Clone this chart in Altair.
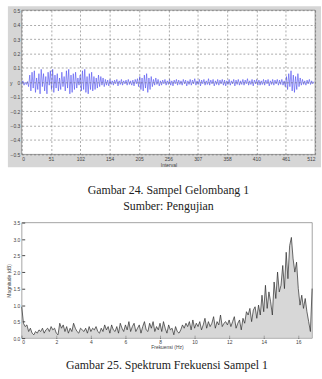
import altair as alt
import pandas as pd

# Sample waveform (amplitude per sample pair)
signal = [
    -0.01, 0.01, -0.02, 0.00, -0.015, 0.005, -0.03, 0.05, -0.06, 0.07, -0.04, 0.08, -0.07, 0.03, -0.05, 0.06,
    -0.08, 0.09, -0.03, 0.06, -0.06, 0.04, -0.08, 0.07, -0.02, 0.08, -0.05, 0.09, -0.07, 0.05, -0.04, 0.06,
    -0.06, 0.03, -0.05, 0.07, -0.03, 0.04, -0.06, 0.08, -0.04, 0.09, -0.08, 0.05, -0.07, 0.06, -0.05, 0.07,
    -0.04, 0.03, -0.02, 0.05, -0.06, 0.08, -0.05, 0.09, -0.07, 0.04, -0.08, 0.06, -0.05, 0.07, -0.06, 0.04,
    -0.05, 0.03, -0.04, 0.05, -0.03, 0.04, -0.02, 0.03, -0.03, 0.02, -0.02, 0.015, -0.025, 0.02, -0.015, 0.01,
    -0.02, 0.015, -0.01, 0.02, -0.025, 0.01, -0.015, 0.02, -0.02, 0.01, -0.01, 0.015, -0.02, 0.02, -0.015, 0.01,
    -0.02, 0.015, -0.025, 0.02, -0.01, 0.025, -0.03, 0.04, -0.05, 0.03, -0.06, 0.05, -0.04, 0.06, -0.07, 0.03,
    -0.05, 0.04, -0.03, 0.02, -0.02, 0.03, -0.015, 0.02, -0.025, 0.01, -0.02, 0.015, -0.01, 0.02, -0.02, 0.01,
    -0.015, 0.02, -0.02, 0.01, -0.025, 0.015, -0.01, 0.02, -0.02, 0.015, -0.015, 0.01, -0.02, 0.02, -0.01, 0.015,
    -0.025, 0.01, -0.015, 0.02, -0.02, 0.015, -0.01, 0.025, -0.02, 0.01, -0.015, 0.02, -0.025, 0.015, -0.01, 0.02,
    -0.02, 0.01, -0.015, 0.025, -0.02, 0.015, -0.01, 0.02, -0.025, 0.01, -0.015, 0.02, -0.02, 0.015, -0.01, 0.02,
    -0.02, 0.015, -0.025, 0.01, -0.015, 0.02, -0.02, 0.01, -0.01, 0.02, -0.025, 0.015, -0.015, 0.02, -0.02, 0.01,
    -0.015, 0.02, -0.02, 0.015, -0.01, 0.025, -0.02, 0.01, -0.015, 0.02, -0.025, 0.015, -0.01, 0.02, -0.02, 0.015,
    -0.02, 0.01, -0.015, 0.02, -0.02, 0.015, -0.01, 0.02, -0.025, 0.01, -0.015, 0.02, -0.02, 0.015, -0.01, 0.02,
    -0.02, 0.015, -0.015, 0.02, -0.02, 0.01, -0.03, 0.04, -0.05, 0.06, -0.03, 0.08, -0.06, 0.05, -0.07, 0.04,
    -0.05, 0.06, -0.03, 0.03, -0.02, 0.02, -0.015, 0.01, -0.02, 0.015, -0.01, 0.02, -0.015, 0.01, -0.01, 0.005,
]
sample_step = 2

# Frequency spectrum magnitudes, 0.0 .. 16.8 Hz in 0.1 steps
spectrum = [
    0.95, 0.45, 0.35, 0.4, 0.2, 0.3, 0.15, 0.1, 0.2, 0.15, 0.25,
    0.2, 0.3, 0.15, 0.25, 0.3, 0.2, 0.35, 0.25, 0.3, 0.15,
    0.1, 0.45, 0.3, 0.4, 0.2, 0.35, 0.15, 0.3, 0.2, 0.45,
    0.3, 0.2, 0.15, 0.3, 0.25, 0.2, 0.3, 0.15, 0.35, 0.2,
    0.3, 0.25, 0.35, 0.2, 0.15, 0.3, 0.2, 0.4, 0.25, 0.35,
    0.15, 0.4, 0.25, 0.2, 0.35, 0.15, 0.45, 0.3, 0.2, 0.4,
    0.25, 0.5, 0.2, 0.35, 0.45, 0.2, 0.3, 0.4, 0.15, 0.35,
    0.5, 0.25, 0.2, 0.45, 0.3, 0.5, 0.2, 0.35, 0.25, 0.45,
    0.2, 0.5, 0.3, 0.15, 0.4, 0.25, 0.3, 0.1, 0.35, 0.2,
    0.15, 0.25, 0.4, 0.3, 0.45, 0.35, 0.5, 0.25, 0.55, 0.3,
    0.45, 0.35, 0.5, 0.25, 0.4, 0.6, 0.3, 0.5, 0.35, 0.45,
    0.65, 0.3, 0.5, 0.4, 0.7, 0.35, 0.45, 0.5, 0.4, 0.55,
    0.35, 0.5, 0.65, 0.3, 0.45, 0.55, 0.25, 0.6, 0.45, 0.8,
    0.7, 0.9, 0.5, 0.85, 0.95, 0.6, 1.0, 0.7, 1.3, 0.8,
    1.6, 0.9, 1.4, 1.1, 0.7, 1.7, 1.2, 2.0, 1.4, 1.6,
    2.2, 1.5, 2.6, 1.8, 2.8, 3.05, 2.4, 2.0, 2.3, 1.5,
    1.0, 1.3, 0.9, 1.2, 0.8, 0.5, 0.2, 1.5,
]
freq_step = 0.1

top_x_ticks = [0, 51.2, 102.4, 153.6, 204.8, 256, 307.2, 358.4, 409.6, 460.8, 512]
top_y_ticks = [-0.5, -0.4, -0.3, -0.2, -0.1, 0, 0.1, 0.2, 0.3, 0.4, 0.5]
bot_x_ticks = [0, 2, 4, 6, 8, 10, 12, 14, 16]
bot_y_ticks = [0, 0.5, 1, 1.5, 2, 2.5, 3, 3.5]

df1 = pd.DataFrame({"n": [i * sample_step for i in range(len(signal))], "v": signal})
df2 = pd.DataFrame({"f": [round(i * freq_step, 1) for i in range(len(spectrum))], "m": spectrum})

W1, H1 = 297, 146
W2, H2 = 294, 117

lab = dict(labelFont="Liberation Sans", labelFontSize=5, labelColor="#444",
           titleFont="Liberation Sans", titleFontSize=5, titleColor="#444",
           titleFontWeight="normal", domain=False, tickColor="#444")

# grey figure panel behind the upper plot, and white plot area
panel_bg = alt.Chart(alt.Data(values=[{}])).mark_rect(color="#d6d6d6").encode(
    x=alt.value(-14), x2=alt.value(W1 + 6), y=alt.value(-4), y2=alt.value(H1 + 13)
)
plot_bg = alt.Chart(alt.Data(values=[{}])).mark_rect(color="white", stroke="#666", strokeWidth=0.6).encode(
    x=alt.value(0), x2=alt.value(W1), y=alt.value(0), y2=alt.value(H1)
)

wave = alt.Chart(df1).mark_line(color="#4a4af0", strokeWidth=0.6).encode(
    x=alt.X("n:Q", scale=alt.Scale(domain=[0, 512], nice=False),
            axis=alt.Axis(values=top_x_ticks, format=".0f", title="Interval", grid=True,
                          gridColor="#555", gridDash=[2, 2], gridWidth=0.5, zindex=1,
                          ticks=False, labelPadding=2, titlePadding=1, **lab)),
    y=alt.Y("v:Q", scale=alt.Scale(domain=[-0.5, 0.5], nice=False),
            axis=alt.Axis(values=top_y_ticks,
                          labelExpr="datum.value == 0 ? '0' : format(datum.value, '.1f')",
                          title="y", titleAngle=0, titleX=-11, titleY=H1 / 2, titleAlign="center",
                          titleBaseline="middle", grid=True, gridColor="#555", gridDash=[2, 2],
                          gridWidth=0.5, zindex=1, ticks=False, labelPadding=2, **lab)),
)

top = alt.layer(panel_bg, plot_bg, wave).properties(
    width=W1, height=H1,
    title=alt.TitleParams(text="Gambar 24. Sampel Gelombang 1", subtitle="Sumber: Pengujian",
                          orient="bottom", anchor="middle", font="Liberation Serif", fontSize=12,
                          fontWeight="normal", color="#222", subtitleFont="Liberation Serif",
                          subtitleFontSize=12, subtitleColor="#222", subtitlePadding=4, offset=18),
)

# invisible frame so both panels have the same outer bounds
spacer = alt.Chart(alt.Data(values=[{}])).mark_rect(color="white", opacity=0).encode(
    x=alt.value(-20), x2=alt.value(W2 + 3), y=alt.value(0), y2=alt.value(H2)
)

area = alt.Chart(df2).mark_area(color="#c6c6c6", line=alt.LineConfig(color="#2a2a2a", strokeWidth=0.7)).encode(
    x=alt.X("f:Q", scale=alt.Scale(domain=[0, 16.8], nice=False),
            axis=alt.Axis(values=bot_x_ticks, title="Frekuensi (Hz)", grid=False,
                          offset=-3, tickSize=3, labelPadding=1, titlePadding=1, **lab)),
    y=alt.Y("m:Q", scale=alt.Scale(domain=[0, 3.5], nice=False),
            axis=alt.Axis(values=bot_y_ticks, title="Magnitude (dB)", grid=False,
                          offset=-3, tickSize=3, labelPadding=2, titlePadding=1, **lab)),
)

bottom = alt.layer(spacer, area).properties(
    width=W2, height=H2,
    title=alt.TitleParams(text="Gambar 25. Spektrum Frekuensi Sampel 1",
                          orient="bottom", anchor="middle", font="Liberation Serif", fontSize=12,
                          fontWeight="normal", color="#222", offset=10),
)

chart = alt.vconcat(top, bottom, spacing=7).properties(
    padding={"left": 1, "top": 3, "right": 0, "bottom": 0},
    background="white",
).configure_view(stroke="#666", strokeWidth=0.6).configure_concat(spacing=7)

chart.save("out.html", embed_options={"renderer": "svg", "actions": False})
